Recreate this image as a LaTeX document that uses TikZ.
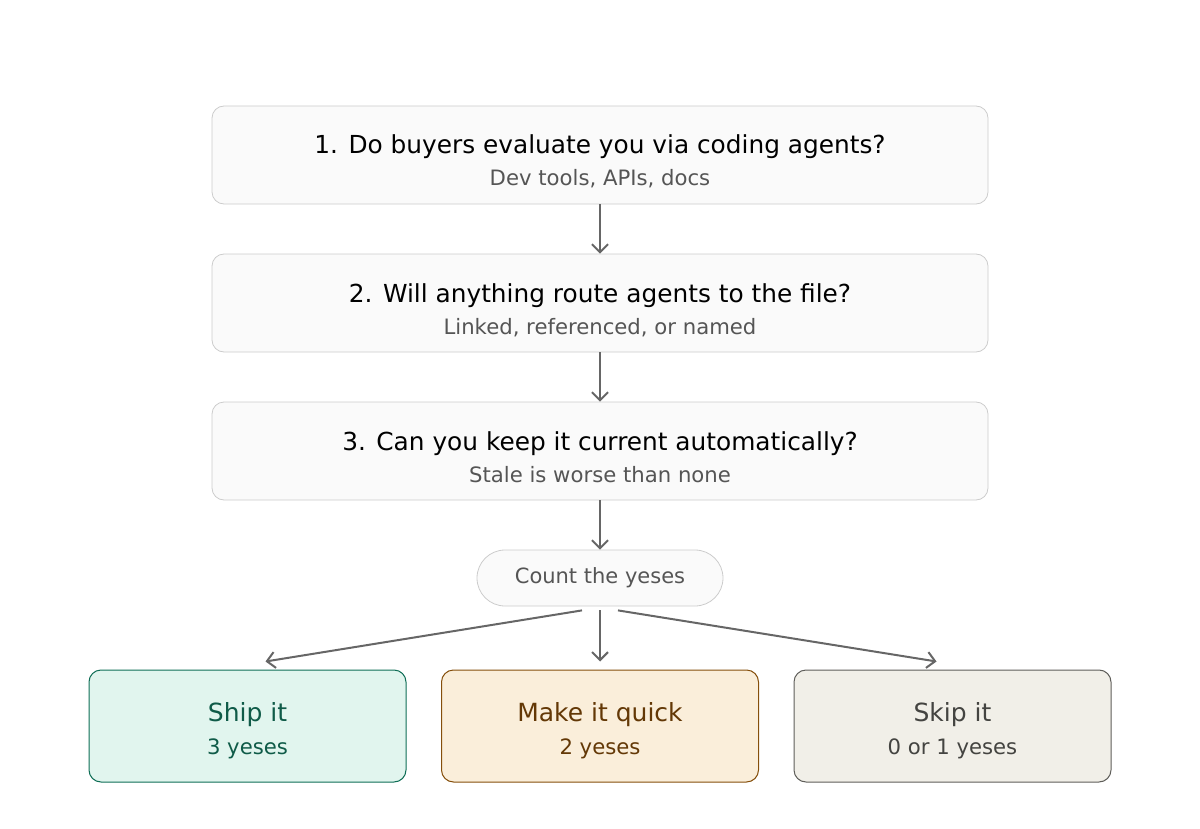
\documentclass[tikz,border=0pt]{standalone}
\usepackage{fontspec}
\setmainfont{DejaVu Sans}
\usetikzlibrary{arrows.meta, positioning}
\definecolor{boxfill}{HTML}{FAFAFA}
\definecolor{boxline}{HTML}{CCCCCC}
\definecolor{subgray}{HTML}{555555}
\definecolor{arrowgray}{HTML}{666666}
\definecolor{shipfill}{HTML}{E1F5EE}
\definecolor{shipline}{HTML}{0F6E56}
\definecolor{shiptext}{HTML}{0F5B48}
\definecolor{quickfill}{HTML}{FAEEDA}
\definecolor{quickline}{HTML}{854F0B}
\definecolor{quicktext}{HTML}{633806}
\definecolor{skipfill}{HTML}{F1EFE8}
\definecolor{skipline}{HTML}{5F5E5A}
\definecolor{skiptext}{HTML}{444441}
\tikzstyle{question} = [rectangle, rounded corners=6pt, minimum width=388pt, minimum height=49pt, draw=boxline, fill=boxfill]
\tikzstyle{tally} = [rectangle, rounded corners=14pt, minimum width=123pt, minimum height=28pt, draw=boxline, fill=boxfill, text=subgray, font=\fontsize{10.5}{12}\selectfont]
\tikzstyle{outcome} = [rectangle, rounded corners=6pt, minimum width=158.5pt, minimum height=56pt, line width=0.5pt]
\tikzstyle{arrow} = [line width=1pt, draw=arrowgray, -{Straight Barb[length=4pt, width=8pt]}]
% two centred lines, last baseline #1 below the node centre
\newcommand{\twolines}[5]{\raisebox{-#1}[0pt][0pt]{\vbox{\baselineskip=#2\halign{\hfil##\hfil\cr
  {\fontsize{#3}{15}\selectfont #4}\cr {\fontsize{10.6}{12}\selectfont #5}\cr}}}}
\newcommand{\qtext}[2]{\twolines{15.5pt}{16pt}{12.4}{#1}{\color{subgray}#2}}
\newcommand{\otext}[2]{\twolines{14pt}{16.5pt}{12.5}{#1}{#2}}

\begin{document}
\begin{tikzpicture}[x=0.5pt, y=-0.5pt]
\useasboundingbox (0,0) rectangle (1200,829);

% Questions
\node (q1) [question] at (600,155) {\qtext{1. Do buyers evaluate you via coding agents?}{Dev tools, APIs, docs}};
\node (q2) [question] at (600,303) {\qtext{2. Will anything route agents to the file?}{Linked, referenced, or named}};
\node (q3) [question] at (600,451) {\qtext{3. Can you keep it current automatically?}{Stale is worse than none}};
\node (count) [tally] at (600,578) {\raisebox{-1pt}{Count the yeses}};

% Outcomes
\node (ship) [outcome, fill=shipfill, draw=shipline, text=shiptext] at (247.5,726) {\otext{Ship it}{3 yeses}};
\node (quick) [outcome, fill=quickfill, draw=quickline, text=quicktext] at (600,726) {\otext{Make it quick}{2 yeses}};
\node (skip) [outcome, fill=skipfill, draw=skipline, text=skiptext] at (952.5,726) {\otext{Skip it}{0 or 1 yeses}};

% Arrows
\draw [arrow] (q1) -- (q2);
\draw [arrow] (q2) -- (q3);
\draw [arrow] (q3) -- (count);
\draw [arrow] ([xshift=-9pt, yshift=-2pt]count.south) -- ([xshift=9pt, yshift=4pt]ship.north);
\draw [arrow] ([yshift=-2pt]count.south) -- ([yshift=4pt]quick.north);
\draw [arrow] ([xshift=9pt, yshift=-2pt]count.south) -- ([xshift=-8pt, yshift=4pt]skip.north);

\end{tikzpicture}
\end{document}
